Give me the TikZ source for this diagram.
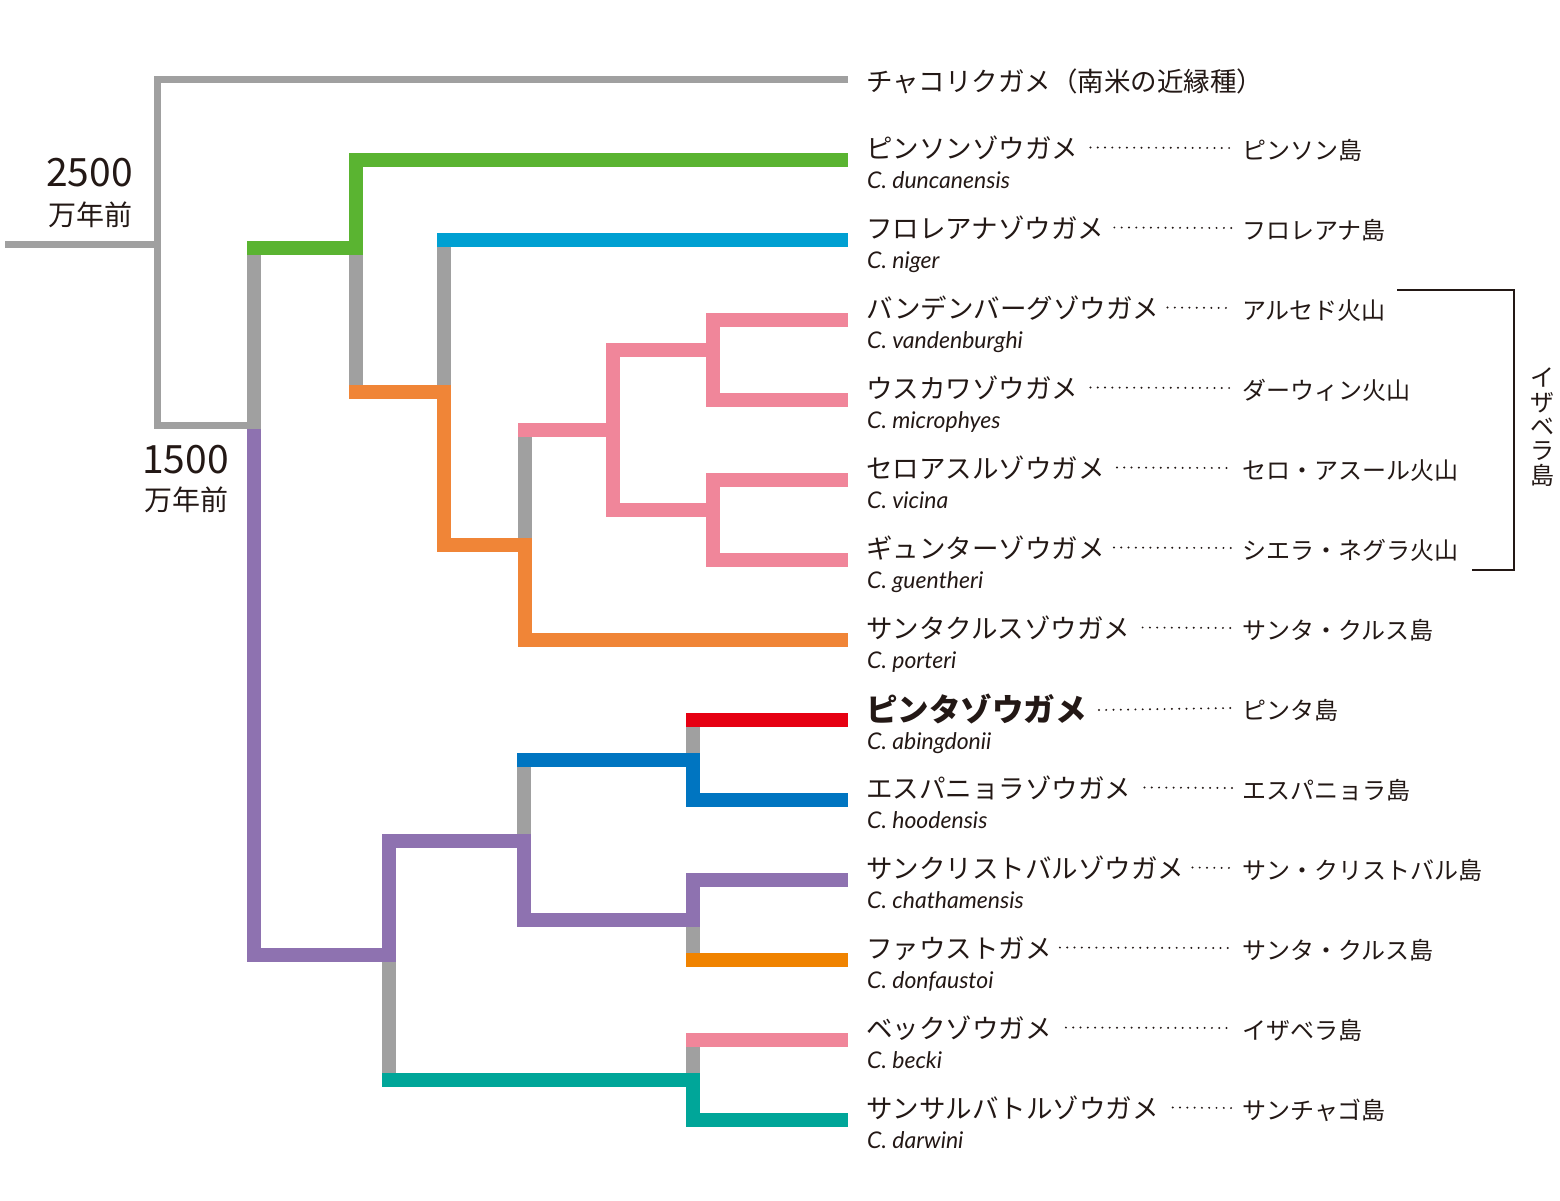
\documentclass[tikz,border=0pt]{standalone}
\usepackage{fontspec}
\setmainfont{Noto Sans CJK JP}
\newfontfamily\latfont{Lato}
\usetikzlibrary{calc}
\definecolor{tx}{HTML}{231815}
\definecolor{cgray}{HTML}{A0A0A0}
\definecolor{cgreen}{HTML}{5AB431}
\definecolor{ccyan}{HTML}{00A0D2}
\definecolor{corangeA}{HTML}{F08537}
\definecolor{cpink}{HTML}{F0869A}
\definecolor{cred}{HTML}{E60012}
\definecolor{cblue}{HTML}{0075C1}
\definecolor{cpurple}{HTML}{8E72B0}
\definecolor{corangeB}{HTML}{F08300}
\definecolor{cteal}{HTML}{00A699}
\begin{document}
\begin{tikzpicture}[x=1pt,y=-1pt,
  br/.style={line width=14pt, line cap=butt, line join=miter},
  thinline/.style={line width=7pt, draw=cgray, line cap=butt, line join=miter},
  nm/.style={anchor=base west, inner sep=0pt, text=tx, font=\fontsize{26.5}{30}\selectfont},
  nmb/.style={anchor=base west, inner sep=0pt, text=tx, font=\fontsize{31.5}{34}\selectfont\bfseries},
  isl/.style={anchor=base west, inner sep=0pt, text=tx, font=\fontsize{24}{28}\selectfont},
  sci/.style={anchor=base west, inner sep=0pt, text=tx, font=\latfont\itshape\fontsize{23}{26}\selectfont},
  age/.style={anchor=base east, inner sep=0pt, text=tx, font=\fontsize{39}{44}\selectfont},
  ageu/.style={anchor=base east, inner sep=0pt, text=tx, font=\fontsize{28}{32}\selectfont},
  leader/.style={draw=tx, line width=2.2pt, line cap=round, dash pattern=on 0pt off 7.3pt},
  bracketline/.style={draw=tx, line width=2pt, line join=miter}
]
\useasboundingbox (0,0) rectangle (1560,1200);

% ---------- thin gray root lines ----------
\draw[thinline] (848,79.5) -- (157.5,79.5) -- (157.5,425.5) -- (247,425.5);
\draw[thinline] (5,244) -- (157.5,244);

% ---------- gray stems (under colours) ----------
\draw[br,cgray] (254,241) -- (254,435);
\draw[br,cgray] (356,250) -- (356,392);
\draw[br,cgray] (444,245) -- (444,392);
\draw[br,cgray] (525,432) -- (525,545);
\draw[br,cgray] (524,762) -- (524,841);
\draw[br,cgray] (693,722) -- (693,760);
\draw[br,cgray] (693,922) -- (693,960);
\draw[br,cgray] (389,955) -- (389,1080);
\draw[br,cgray] (693,1042) -- (693,1080);

% ---------- coloured branches ----------
\draw[br,cgreen] (247,248) -- (356,248) -- (356,160) -- (848,160);
\draw[br,ccyan] (437,240) -- (848,240);
\draw[br,corangeA] (349,392) -- (444,392) -- (444,545) -- (525,545) -- (525,640) -- (848,640);
\draw[br,cpink] (518,430) -- (613,430);
\draw[br,cpink] (713,350) -- (613,350) -- (613,510) -- (713,510);
\draw[br,cpink] (848,320) -- (713,320) -- (713,400) -- (848,400);
\draw[br,cpink] (848,480) -- (713,480) -- (713,560) -- (848,560);

\draw[br,cpurple] (254,429) -- (254,955) -- (389,955) -- (389,841) -- (524,841) -- (524,920) -- (693,920) -- (693,880) -- (848,880);
\draw[br,cblue] (517,760) -- (693,760) -- (693,800) -- (848,800);
\draw[br,cred] (686,720) -- (848,720);
\draw[br,corangeB] (686,960) -- (848,960);
\draw[br,cteal] (382,1080) -- (693,1080) -- (693,1120) -- (848,1120);
\draw[br,cpink] (686,1040) -- (848,1040);

% ---------- age labels ----------
\node[age] (a25) at (133,186) {2500};
\node[ageu] (a25u) at (133,225) {万年前};
\node[age] (a15) at (229,473) {1500};
\node[ageu] (a15u) at (229,510.5) {万年前};

% ---------- outgroup ----------
\node[nm] (chaco) at (866,91.5) {チャコリクガメ（南米の近縁種）};

% ---------- species rows ----------
\node[nm] (n1) at (866,158.5) {ピンソンゾウガメ};
\node[sci] (s1) at (867,188) {C. duncanensis};
\node[isl] (i1) at (1242,159) {ピンソン島};
\draw[leader] ($(n1.base east)+(12,-11)$) -- ($(i1.base west)+(-10,-11)$);

\node[nm] (n2) at (866,238.5) {フロレアナゾウガメ};
\node[sci] (s2) at (867,268) {C. niger};
\node[isl] (i2) at (1242,239) {フロレアナ島};
\draw[leader] ($(n2.base east)+(10,-11)$) -- ($(i2.base west)+(-10,-11)$);

\node[nm] (n3) at (866,318.5) {バンデンバーグゾウガメ};
\node[sci] (s3) at (867,348) {C. vandenburghi};
\node[isl] (i3) at (1242,319) {アルセド火山};
\draw[leader] ($(n3.base east)+(8,-11)$) -- ($(i3.base west)+(-10,-11)$);

\node[nm] (n4) at (866,398.5) {ウスカワゾウガメ};
\node[sci] (s4) at (867,428) {C. microphyes};
\node[isl] (i4) at (1242,399) {ダーウィン火山};
\draw[leader] ($(n4.base east)+(12,-11)$) -- ($(i4.base west)+(-10,-11)$);

\node[nm] (n5) at (866,478.5) {セロアスルゾウガメ};
\node[sci] (s5) at (867,508) {C. vicina};
\node[isl] (i5) at (1242,479) {セロ・アスール火山};
\draw[leader] ($(n5.base east)+(12,-11)$) -- ($(i5.base west)+(-10,-11)$);

\node[nm] (n6) at (866,558.5) {ギュンターゾウガメ};
\node[sci] (s6) at (867,588) {C. guentheri};
\node[isl] (i6) at (1242,559) {シエラ・ネグラ火山};
\draw[leader] ($(n6.base east)+(9,-11)$) -- ($(i6.base west)+(-10,-11)$);

\node[nm] (n7) at (866,638.5) {サンタクルスゾウガメ};
\node[sci] (s7) at (867,668) {C. porteri};
\node[isl] (i7) at (1242,639) {サンタ・クルス島};
\draw[leader] ($(n7.base east)+(12,-11)$) -- ($(i7.base west)+(-10,-11)$);

\node[nmb] (n8) at (866,721) {ピンタゾウガメ};
\node[sci] (s8) at (867,749) {C. abingdonii};
\node[isl] (i8) at (1242,719) {ピンタ島};
\draw[leader] ($(n8.base east)+(12,-11)$) -- ($(i8.base west)+(-10,-11)$);

\node[nm] (n9) at (866,798.5) {エスパニョラゾウガメ};
\node[sci] (s9) at (867,828) {C. hoodensis};
\node[isl] (i9) at (1242,799) {エスパニョラ島};
\draw[leader] ($(n9.base east)+(13,-11)$) -- ($(i9.base west)+(-10,-11)$);

\node[nm] (n10) at (866,878.5) {サンクリストバルゾウガメ};
\node[sci] (s10) at (867,908) {C. chathamensis};
\node[isl] (i10) at (1242,879) {サン・クリストバル島};
\draw[leader] ($(n10.base east)+(8,-11)$) -- ($(i10.base west)+(-10,-11)$);

\node[nm] (n11) at (866,958.5) {ファウストガメ};
\node[sci] (s11) at (867,988) {C. donfaustoi};
\node[isl] (i11) at (1242,959) {サンタ・クルス島};
\draw[leader] ($(n11.base east)+(8,-11)$) -- ($(i11.base west)+(-10,-11)$);

\node[nm] (n12) at (866,1038.5) {ベックゾウガメ};
\node[sci] (s12) at (867,1068) {C. becki};
\node[isl] (i12) at (1242,1039) {イザベラ島};
\draw[leader] ($(n12.base east)+(14,-11)$) -- ($(i12.base west)+(-10,-11)$);

\node[nm] (n13) at (866,1118.5) {サンサルバトルゾウガメ};
\node[sci] (s13) at (867,1148) {C. darwini};
\node[isl] (i13) at (1242,1119) {サンチャゴ島};
\draw[leader] ($(n13.base east)+(14,-11)$) -- ($(i13.base west)+(-10,-11)$);

% ---------- Isabela bracket ----------
\coordinate (bt) at (1397,290);
\coordinate (bb) at (1472,570);
\draw[bracketline] (bt) -- (1514,290) -- (1514,570) -- (bb);
\node[inner sep=0pt, text=tx, align=center, font=\fontsize{24}{24.3}\selectfont] (isabela) at (1542,427) {イ\\ザ\\ベ\\ラ\\島};
\end{tikzpicture}
\end{document}
